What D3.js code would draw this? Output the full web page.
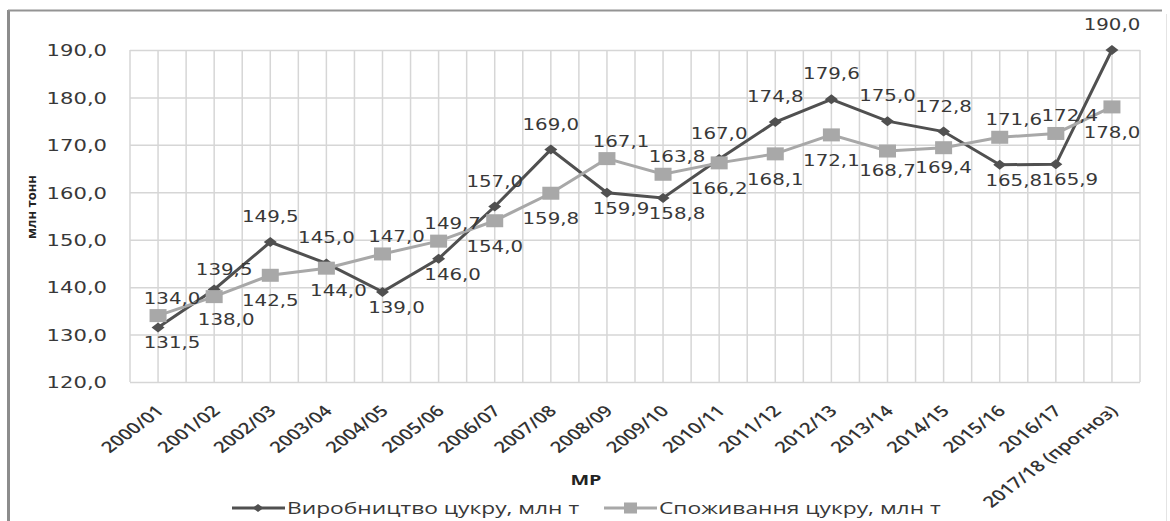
<!DOCTYPE html>
<html>
<head>
<meta charset="utf-8">
<script src="https://cdn.jsdelivr.net/npm/d3@7"></script>
<style>
  body { margin: 0; background: #fff; }
  svg { display: block; }
</style>
</head>
<body>
<div id="chart"></div>
<script>
// data
var categories = ["2000/01", "2001/02", "2002/03", "2003/04", "2004/05", "2005/06",
  "2006/07", "2007/08", "2008/09", "2009/10", "2010/11", "2011/12", "2012/13",
  "2013/14", "2014/15", "2015/16", "2016/17", "2017/18 (прогноз)"];
var production = [131.5, 139.5, 149.5, 145.0, 139.0, 146.0, 157.0, 169.0, 159.9,
  158.8, 167.0, 174.8, 179.6, 175.0, 172.8, 165.8, 165.9, 190.0];
var consumption = [134.0, 138.0, 142.5, 144.0, 147.0, 149.7, 154.0, 159.8, 167.1,
  163.8, 166.2, 168.1, 172.1, 168.7, 169.4, 171.6, 172.4, 178.0];
var yTicks = [120, 130, 140, 150, 160, 170, 180, 190];
var seriesNames = ["Виробництво цукру, млн т", "Споживання цукру, млн т"];
// where each data label sits relative to its point
var prodLabelPos = ["br", "tr", "t", "t", "br", "br", "t", "t", "br", "br", "t", "t", "t", "t", "t", "br", "br", "t"];
var consLabelPos = ["tr", "br", "b", "br", "tr", "tr", "b", "b", "tr", "tr", "b", "b", "b", "bs", "bs", "tr", "tr", "b"];

var width = 1170, height = 521;
var plot = { left: 130, right: 1140, top: 50, bottom: 382 };
var stretch = 1.32; // the picture is widened horizontally
var darkCol = "#505050", lightCol = "#a8a8a8", textCol = "#383838", gridCol = "#d6d6d6";

var prodOffsets = { t: [0, -20], tr: [10, -15], br: [14, 21] };
var consOffsets = { tr: [14, -12], b: [0, 31], br: [12, 28], bs: [0, 25] };

var fmt = function (v) { return d3.format(".1f")(v).replace(".", ","); };

var svg = d3.select("#chart").append("svg")
  .attr("width", width)
  .attr("height", height);

svg.append("rect").attr("width", width).attr("height", height).attr("fill", "#fff");

// outer frame
svg.append("line").attr("x1", 8.5).attr("y1", 10).attr("x2", 8.5).attr("y2", height)
  .attr("stroke", "#8c8c8c").attr("stroke-width", 3);
svg.append("line").attr("x1", 8).attr("y1", 10.5).attr("x2", 1162).attr("y2", 10.5)
  .attr("stroke", "#949494").attr("stroke-width", 2);
svg.append("line").attr("x1", 1166.5).attr("y1", 14).attr("x2", 1166.5).attr("y2", height)
  .attr("stroke", "#e4e4e4").attr("stroke-width", 1);

var x = d3.scaleBand().domain(categories).range([plot.left, plot.right]).padding(0);
var bw = x.bandwidth();
var cx = function (c) { return x(c) + bw / 2; };
var y = d3.scaleLinear().domain([120, 190]).range([plot.bottom, plot.top]);

// vertical grid: at every band edge and band centre
var vGrid = [];
categories.forEach(function (c) { vGrid.push(x(c)); vGrid.push(cx(c)); });
vGrid.push(plot.right);
svg.append("g").selectAll("line")
  .data(vGrid)
  .enter().append("line")
  .attr("x1", function (d) { return d; })
  .attr("x2", function (d) { return d; })
  .attr("y1", plot.top)
  .attr("y2", plot.bottom)
  .attr("stroke", gridCol)
  .attr("stroke-width", 1.5);

// y axis with horizontal grid
var yAxis = svg.append("g")
  .attr("transform", "translate(" + plot.left + ",0)")
  .call(d3.axisLeft(y).tickValues(yTicks).tickSize(-(plot.right - plot.left)).tickFormat(fmt));
yAxis.select(".domain").remove();
yAxis.selectAll(".tick line").attr("stroke", gridCol).attr("stroke-width", 1.5);
yAxis.selectAll(".tick text")
  .attr("x", -23 / stretch)
  .attr("dy", "0.36em")
  .attr("transform", "scale(" + stretch + ",1)")
  .style("font-family", "'DejaVu Sans', Verdana, sans-serif")
  .style("font-size", "16px")
  .attr("fill", textCol);

// x axis labels
var xAxis = svg.append("g")
  .attr("transform", "translate(0," + plot.bottom + ")")
  .call(d3.axisBottom(x).tickSize(0).tickPadding(0));
xAxis.select(".domain").remove();
xAxis.selectAll(".tick text")
  .attr("x", 0).attr("y", 0).attr("dy", 0)
  .attr("text-anchor", "end")
  .attr("transform", "translate(7,30) scale(" + stretch + ",1) rotate(-45)")
  .style("font-family", "'Open Sans', sans-serif")
  .style("font-size", "15.5px")
  .style("font-weight", "600")
  .attr("fill", "#333");

// axis titles
svg.append("text")
  .attr("transform", "translate(36,207) rotate(-90)")
  .attr("text-anchor", "middle")
  .style("font-family", "'Open Sans', sans-serif")
  .style("font-size", "13px")
  .style("font-weight", "bold")
  .attr("fill", "#222")
  .text("млн тонн");

svg.append("text")
  .attr("transform", "translate(586,485) scale(" + stretch + ",1)")
  .attr("text-anchor", "middle")
  .style("font-family", "'Open Sans', sans-serif")
  .style("font-size", "15px")
  .style("font-weight", "bold")
  .attr("fill", "#222")
  .text("МР");

var line = d3.line()
  .x(function (d, i) { return cx(categories[i]); })
  .y(function (d) { return y(d); });

var diamond = "M0,-5L6.5,0L0,5L-6.5,0Z";

// production series
svg.append("path")
  .datum(production)
  .attr("fill", "none")
  .attr("stroke", darkCol)
  .attr("stroke-width", 3)
  .attr("d", line);
svg.append("g").selectAll("path")
  .data(production)
  .enter().append("path")
  .attr("d", diamond)
  .attr("transform", function (d, i) { return "translate(" + cx(categories[i]) + "," + y(d) + ")"; })
  .attr("fill", darkCol);

// consumption series
svg.append("path")
  .datum(consumption)
  .attr("fill", "none")
  .attr("stroke", lightCol)
  .attr("stroke-width", 3)
  .attr("d", line);
svg.append("g").selectAll("rect")
  .data(consumption)
  .enter().append("rect")
  .attr("x", function (d, i) { return cx(categories[i]) - 8.5; })
  .attr("y", function (d) { return y(d) - 6.5; })
  .attr("width", 17)
  .attr("height", 13)
  .attr("fill", lightCol);

// data labels
function drawLabels(values, pos, offsets) {
  svg.append("g").selectAll("text")
    .data(values)
    .enter().append("text")
    .attr("transform", function (d, i) {
      var o = offsets[pos[i]];
      return "translate(" + (cx(categories[i]) + o[0]) + "," + (y(d) + o[1]) + ") scale(" + stretch + ",1)";
    })
    .attr("text-anchor", "middle")
    .style("font-family", "'DejaVu Sans', Verdana, sans-serif")
    .style("font-size", "15px")
    .attr("fill", textCol)
    .text(function (d) { return fmt(d); });
}
drawLabels(production, prodLabelPos, prodOffsets);
drawLabels(consumption, consLabelPos, consOffsets);

// legend
var legendItems = [
  { name: seriesNames[0], x: 232, color: darkCol, marker: "diamond" },
  { name: seriesNames[1], x: 604, color: lightCol, marker: "square" }
];
var legend = svg.append("g").selectAll("g")
  .data(legendItems)
  .enter().append("g")
  .attr("transform", function (d) { return "translate(" + d.x + ",508)"; });
legend.append("line")
  .attr("x1", 0).attr("x2", 53).attr("y1", 0).attr("y2", 0)
  .attr("stroke", function (d) { return d.color; })
  .attr("stroke-width", 3);
legend.filter(function (d) { return d.marker === "diamond"; })
  .append("path")
  .attr("d", "M0,-4L5.5,0L0,4L-5.5,0Z")
  .attr("transform", "translate(26,0)")
  .attr("fill", function (d) { return d.color; });
legend.filter(function (d) { return d.marker === "square"; })
  .append("rect")
  .attr("x", 20).attr("y", -5.5).attr("width", 13).attr("height", 11)
  .attr("fill", function (d) { return d.color; });
legend.append("text")
  .attr("transform", "translate(55,6) scale(" + (stretch + 0.06) + ",1)")
  .style("font-family", "'Open Sans', sans-serif")
  .style("font-size", "16.5px")
  .attr("fill", textCol)
  .text(function (d) { return d.name; });
</script>
</body>
</html>
